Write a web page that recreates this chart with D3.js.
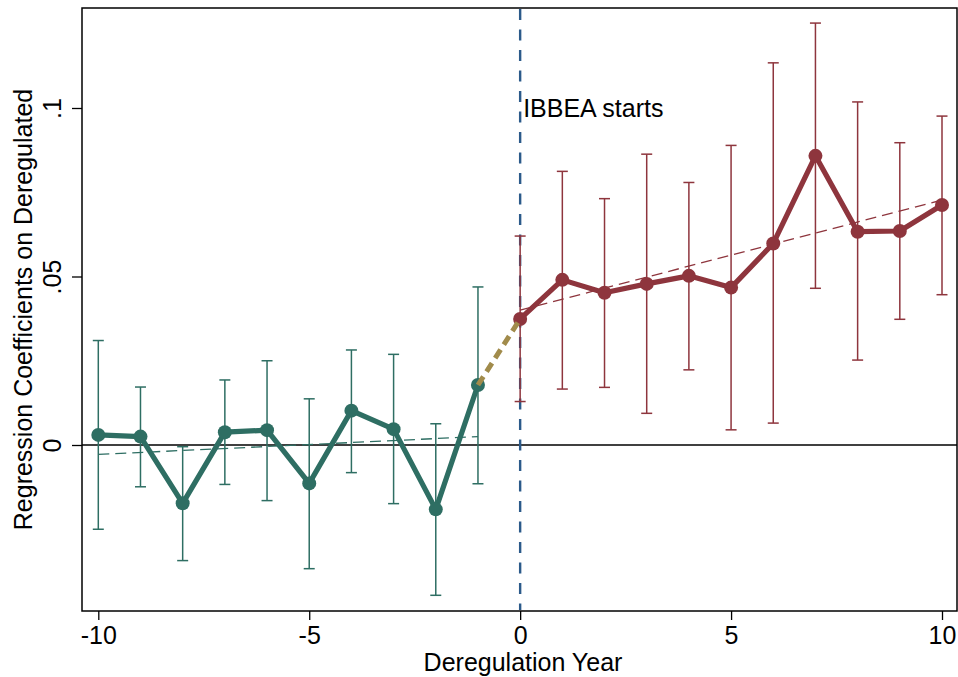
<!DOCTYPE html>
<html><head><meta charset="utf-8">
<script src="https://cdn.jsdelivr.net/npm/d3@7"></script>
<style>body{margin:0;background:#fff}svg{display:block}text{font-family:"Liberation Sans",Arial,sans-serif;fill:#000}</style>
</head><body><div id="chart"></div>
<script>
// Data
const preYears = [-10,-9,-8,-7,-6,-5,-4,-3,-2,-1];
const preCoef  = [0.0030,0.0025,-0.0173,0.0038,0.0044,-0.0114,0.0102,0.0047,-0.0191,0.0178];
const preLo    = [-0.0250,-0.0124,-0.0343,-0.0117,-0.0165,-0.0367,-0.0082,-0.0174,-0.0446,-0.0115];
const preHi    = [0.0310,0.0172,-0.0005,0.0193,0.0250,0.0137,0.0282,0.0269,0.0063,0.0469];
const postYears = [0,1,2,3,4,5,6,7,8,9,10];
const postCoef  = [0.0374,0.0490,0.0452,0.0478,0.0502,0.0467,0.0598,0.0858,0.0633,0.0635,0.0712];
const postLo    = [0.0129,0.0166,0.0171,0.0094,0.0223,0.0045,0.0065,0.0465,0.0252,0.0373,0.0446];
const postHi    = [0.0620,0.0812,0.0731,0.0863,0.0779,0.0889,0.1134,0.1252,0.1018,0.0897,0.0976];
const preTrendX = [-10,-1], preTrendY = [-0.0028,0.0025];
const postTrendX = [0,10], postTrendY = [0.0400,0.0727];
const xTicks = [-10,-5,0,5,10];
const yTicks = [0,0.05,0.1];
const yTickLabels = ["0",".05",".1"];
const eventYear = 0;
const annotation = "IBBEA starts";
const xTitle = "Deregulation Year";
const yTitle = "Regression Coefficients on Deregulated";

const W=958,H=677;
const frame={l:82,t:8,r:957,b:611};
const green="#2e6e63", red="#8e353d", gold="#a18b4b", blue="#2b5a8a";
const FS=25;

const svg=d3.select("#chart").append("svg").attr("width",W).attr("height",H);
const x=d3.scaleLinear().domain([-10,10]).range([98.3,942]);
const y=d3.scaleLinear().domain([0,0.1]).range([445,108]);

// frame
svg.append("rect").attr("x",frame.l).attr("y",frame.t).attr("width",frame.r-frame.l).attr("height",frame.b-frame.t)
  .attr("fill","none").attr("stroke","#000").attr("stroke-width",1.5);

// axes
const xa=svg.append("g").attr("transform",`translate(0,${frame.b})`)
  .call(d3.axisBottom(x).tickValues(xTicks).tickSize(9).tickPadding(6).tickFormat(d=>d<0?"-"+Math.abs(d):d));
xa.select(".domain").remove();
xa.selectAll("line").attr("stroke","#000").attr("stroke-width",1.3);
xa.selectAll("text").attr("font-size",FS).attr("font-family","Liberation Sans, Arial, sans-serif").attr("fill","#000");

const ya=svg.append("g").attr("transform",`translate(${frame.l},0)`)
  .call(d3.axisLeft(y).tickValues(yTicks).tickSize(10).tickFormat((d,i)=>yTickLabels[i]));
ya.select(".domain").remove();
ya.selectAll("line").attr("stroke","#000").attr("stroke-width",1.3);
ya.selectAll("text").attr("font-size",FS).attr("font-family","Liberation Sans, Arial, sans-serif").attr("fill","#000")
  .attr("text-anchor","middle").attr("x",0).attr("dy",0)
  .attr("transform","translate(-21,0) rotate(-90)");

// titles
svg.append("text").attr("x",523).attr("y",671).attr("text-anchor","middle").attr("font-size",FS).text(xTitle);
svg.append("text").attr("transform",`translate(32,${(frame.t+frame.b)/2}) rotate(-90)`).attr("text-anchor","middle").attr("font-size",FS).text(yTitle);

// zero line
svg.append("line").attr("x1",frame.l).attr("x2",frame.r).attr("y1",y(0)).attr("y2",y(0)).attr("stroke","#000").attr("stroke-width",1.5);

// event line
svg.append("line").attr("x1",x(eventYear)).attr("x2",x(eventYear)).attr("y1",frame.t+1).attr("y2",frame.b-1)
  .attr("stroke",blue).attr("stroke-width",2.4).attr("stroke-dasharray","11,9.5");
svg.append("text").attr("x",x(eventYear)+3).attr("y",117).attr("font-size",FS).text(annotation);

function errorBars(xs,lo,hi,col){
  const g=svg.append("g").attr("stroke",col).attr("stroke-width",1.5).attr("fill","none");
  xs.forEach((d,i)=>{
    g.append("line").attr("x1",x(d)).attr("x2",x(d)).attr("y1",y(lo[i])).attr("y2",y(hi[i]));
    g.append("line").attr("x1",x(d)-5.5).attr("x2",x(d)+5.5).attr("y1",y(lo[i])).attr("y2",y(lo[i]));
    g.append("line").attr("x1",x(d)-5.5).attr("x2",x(d)+5.5).attr("y1",y(hi[i])).attr("y2",y(hi[i]));
  });
}
errorBars(preYears,preLo,preHi,green);
errorBars(postYears,postLo,postHi,red);

// trend lines
const line=d3.line().x(d=>x(d[0])).y(d=>y(d[1]));
svg.append("path").datum(preTrendX.map((d,i)=>[d,preTrendY[i]])).attr("d",line)
  .attr("fill","none").attr("stroke",green).attr("stroke-width",1.3).attr("stroke-dasharray","11,6");
svg.append("path").datum(postTrendX.map((d,i)=>[d,postTrendY[i]])).attr("d",line)
  .attr("fill","none").attr("stroke",red).attr("stroke-width",1.3).attr("stroke-dasharray","11,6");

// series
function series(xs,vs,col){
  svg.append("path").datum(xs.map((d,i)=>[d,vs[i]])).attr("d",line)
    .attr("fill","none").attr("stroke",col).attr("stroke-width",5.2).attr("stroke-linejoin","round");
  svg.append("g").selectAll("circle").data(xs.map((d,i)=>[d,vs[i]])).join("circle")
    .attr("cx",d=>x(d[0])).attr("cy",d=>y(d[1])).attr("r",7).attr("fill",col);
}
series(preYears,preCoef,green);
series(postYears,postCoef,red);

// connector
svg.append("path").datum([[preYears[preYears.length-1],preCoef[preCoef.length-1]],[postYears[0],postCoef[0]]]).attr("d",line)
  .attr("fill","none").attr("stroke",gold).attr("stroke-width",5).attr("stroke-dasharray","10,6");
</script></body></html>
